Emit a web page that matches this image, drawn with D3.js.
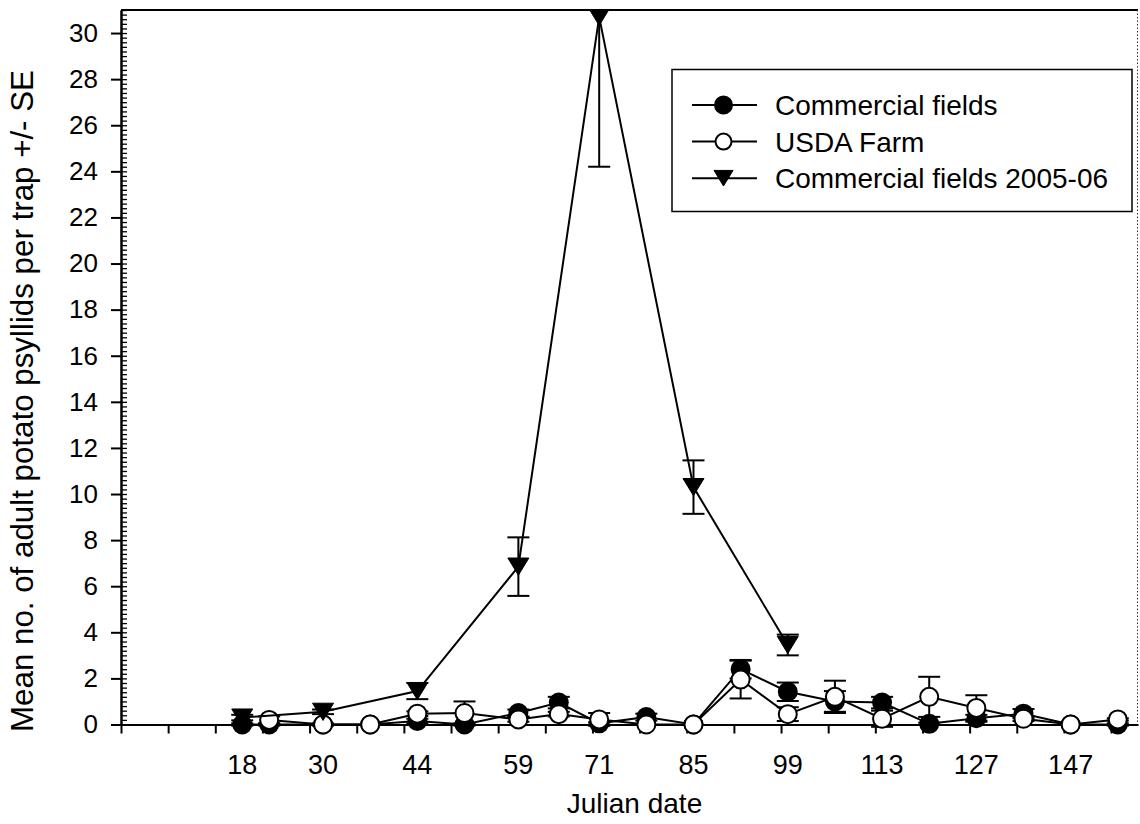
<!DOCTYPE html>
<html>
<head>
	<meta charset="utf-8">
	<title>Potato psyllid trap counts</title>
</head>
<body>

<svg class="chart"></svg>

<style type="text/css">
	body {
		margin: 0;
		background: #fff;
	}

	.chart {
		display: block;
		font-family: "Liberation Sans", Arial, sans-serif;
	}

	.chart .domain,
	.chart .tick line {
		stroke: #000;
		stroke-width: 2px;
	}

	.chart .minor .tick line {
		stroke-width: 1.3px;
	}

	.chart .series path.line {
		fill: none;
		stroke: #000;
		stroke-width: 2px;
	}

	.chart .err {
		stroke: #000;
		stroke-width: 2px;
	}
</style>

<script src="https://d3js.org/d3.v7.min.js"></script>
<script type="text/javascript">
	// sampling dates (Julian day) for both 2006-07 series
	var days = [18, 22, 30, 37, 44, 51, 59, 65, 71, 78, 85, 92, 99, 106, 113, 120, 127, 134, 141, 148];

	var commercial = [0, 0, 0, 0, 0.15, 0, 0.5, 0.95, 0.05, 0.32, 0, 2.4, 1.42, 1.0, 0.95, 0.03, 0.27, 0.47, 0, 0];
	var commercialSE = [0.05, 0.05, 0, 0, 0.1, 0.05, 0.15, 0.25, 0.05, 0.15, 0, 0.4, 0.4, 0.45, 0.25, 0.05, 0.15, 0.2, 0, 0.05];

	var usda = [null, 0.2, 0, 0, 0.47, 0.5, 0.22, 0.45, 0.22, 0, 0, 1.95, 0.45, 1.2, 0.25, 1.2, 0.72, 0.25, 0, 0.22];
	var usdaSE = [null, 0.15, 0.05, 0, 0.1, 0.5, 0.1, 0.1, 0.28, 0, 0, 0.82, 0.3, 0.7, 0.35, 0.87, 0.55, 0.1, 0, 0.05];

	// 2005-06 season
	var days0506 = [18, 30, 44, 59, 71, 85, 99];
	var commercial0506 = [0.3, 0.55, 1.45, 6.85, 30.7, 10.3, 3.45];
	var commercial0506SE = [0.12, 0.1, 0.35, 1.27, 6.5, 1.16, 0.45];

	// labels printed under the x axis
	var labelDays = [18, 30, 44, 59, 71, 85, 99, 113, 127, 141];
	var labelText = ['18', '30', '44', '59', '71', '85', '99', '113', '127', '147'];

	var legendNames = ['Commercial fields', 'USDA Farm', 'Commercial fields 2005-06'];

	(function() {
		'use strict'

		var width = 1140
		var height = 824
		var left = 121, right = 1138, top = 10, bottom = 724.5

		var svg = d3.select('.chart')
			.attr('width', width)
			.attr('height', height)
			.attr('viewBox', [0, 0, width, height])

		var x = d3.scaleLinear().domain([0, 151]).range([left, right])
		var y = d3.scaleLinear().domain([0, 31]).range([bottom, top])

		svg.append('clipPath')
			.attr('id', 'clip')
			.append('rect')
			.attr('x', 0)
			.attr('y', top)
			.attr('width', width)
			.attr('height', height - top)

		// frame: solid top, dotted right
		svg.append('line')
			.attr('x1', left).attr('x2', right)
			.attr('y1', top).attr('y2', top)
			.attr('stroke', '#000').attr('stroke-width', 2)

		svg.append('line')
			.attr('x1', right - 0.5).attr('x2', right - 0.5)
			.attr('y1', top).attr('y2', bottom)
			.attr('stroke', '#333').attr('stroke-width', 1)
			.attr('stroke-dasharray', '1.5,2')

		// y axis: major ticks outside, minor ticks inside
		svg.append('g')
			.attr('class', 'minor')
			.attr('transform', 'translate(' + left + ',0)')
			.call(d3.axisRight(y)
				.tickValues(d3.range(0, 31.01, 0.2))
				.tickFormat('')
				.tickSize(6)
				.tickSizeOuter(0))

		var yAxis = svg.append('g')
			.attr('transform', 'translate(' + left + ',0)')
			.call(d3.axisLeft(y)
				.tickValues(d3.range(0, 31, 2))
				.tickSize(10)
				.tickSizeOuter(0)
				.tickPadding(13))

		yAxis.selectAll('text')
			.attr('font-family', '"Liberation Sans", Arial, sans-serif')
			.attr('font-size', 26)
			.attr('fill', '#000')

		// x axis: weekly ticks, no tick text
		svg.append('g')
			.attr('transform', 'translate(0,' + bottom + ')')
			.call(d3.axisBottom(x)
				.tickValues(d3.range(0, 148, 7))
				.tickFormat('')
				.tickSize(9)
				.tickSizeOuter(0))

		svg.append('g')
			.selectAll('text')
			.data(labelDays)
			.enter()
			.append('text')
			.attr('x', function(d) { return x(d) })
			.attr('y', 774)
			.attr('text-anchor', 'middle')
			.attr('font-size', 27)
			.text(function(d, i) { return labelText[i] })

		svg.append('text')
			.attr('x', (left + right) / 2 + 5)
			.attr('y', 813)
			.attr('text-anchor', 'middle')
			.attr('font-size', 28)
			.text('Julian date')

		svg.append('text')
			.attr('transform', 'translate(33,401) rotate(-90)')
			.attr('text-anchor', 'middle')
			.attr('font-size', 31.3)
			.text('Mean no. of adult potato psyllids per trap +/- SE')

		// markers
		var circle = function(sel, fill, r) {
			sel.append('circle')
				.attr('r', r)
				.attr('fill', fill)
				.attr('stroke', '#000')
				.attr('stroke-width', 2)
		}

		var triangle = function(sel, s) {
			var h = s * 0.82
			sel.append('path')
				.attr('d', 'M' + (-s / 2) + ',' + (-h / 2) + 'L' + (s / 2) + ',' + (-h / 2) + 'L0,' + (h / 2) + 'Z')
				.attr('fill', '#000')
				.attr('stroke', '#000')
				.attr('stroke-width', 1)
		}

		var series = [
			{ days: days, mean: commercial, se: commercialSE, marker: function(s) { circle(s, '#000', 9) } },
			{ days: days, mean: usda, se: usdaSE, marker: function(s) { circle(s, '#fff', 9) } },
			{ days: days0506, mean: commercial0506, se: commercial0506SE, marker: function(s) { triangle(s, 21) } }
		]

		var plot = svg.append('g').attr('clip-path', 'url(#clip)')

		var line = d3.line()
			.x(function(d) { return x(d.day) })
			.y(function(d) { return y(d.v) })

		series.forEach(function(s) {
			var pts = s.days.map(function(d, i) {
				return { day: d, v: s.mean[i], se: s.se[i] }
			}).filter(function(p) { return p.v != null })

			var g = plot.append('g').attr('class', 'series')

			var err = g.selectAll('.err')
				.data(pts.filter(function(p) { return p.se > 0 }))
				.enter()
				.append('g')
				.attr('class', 'err')

			err.append('line')
				.attr('x1', function(p) { return x(p.day) })
				.attr('x2', function(p) { return x(p.day) })
				.attr('y1', function(p) { return y(p.v - p.se) })
				.attr('y2', function(p) { return y(p.v + p.se) })

			err.selectAll('.cap')
				.data(function(p) { return [[p.day, p.v - p.se], [p.day, p.v + p.se]] })
				.enter()
				.append('line')
				.attr('class', 'cap')
				.attr('x1', function(c) { return x(c[0]) - 11 })
				.attr('x2', function(c) { return x(c[0]) + 11 })
				.attr('y1', function(c) { return y(c[1]) })
				.attr('y2', function(c) { return y(c[1]) })

			g.append('path')
				.attr('class', 'line')
				.attr('d', line(pts))

			g.selectAll('.mark')
				.data(pts)
				.enter()
				.append('g')
				.attr('class', 'mark')
				.attr('transform', function(p) { return 'translate(' + x(p.day) + ',' + y(p.v) + ')' })
				.call(s.marker)
		})

		// legend
		var legend = svg.append('g')

		legend.append('rect')
			.attr('x', 672)
			.attr('y', 69.5)
			.attr('width', 460)
			.attr('height', 142)
			.attr('fill', '#fff')
			.attr('stroke', '#000')
			.attr('stroke-width', 1.5)

		var rows = legend.selectAll('.row')
			.data(legendNames)
			.enter()
			.append('g')
			.attr('class', 'row')
			.attr('transform', function(d, i) { return 'translate(0,' + (105 + i * 36.6) + ')' })

		rows.append('line')
			.attr('x1', 692).attr('x2', 757)
			.attr('stroke', '#000').attr('stroke-width', 2)

		rows.append('g')
			.attr('transform', 'translate(723.5,0)')
			.each(function(d, i) {
				var s = d3.select(this)
				if (i === 0) circle(s, '#000', 8.5)
				else if (i === 1) circle(s, '#fff', 8)
				else triangle(s, 19)
			})

		rows.append('text')
			.attr('x', 775)
			.attr('y', 10)
			.attr('font-size', 28)
			.text(function(d) { return d })
	})()
</script>
</body>
</html>
